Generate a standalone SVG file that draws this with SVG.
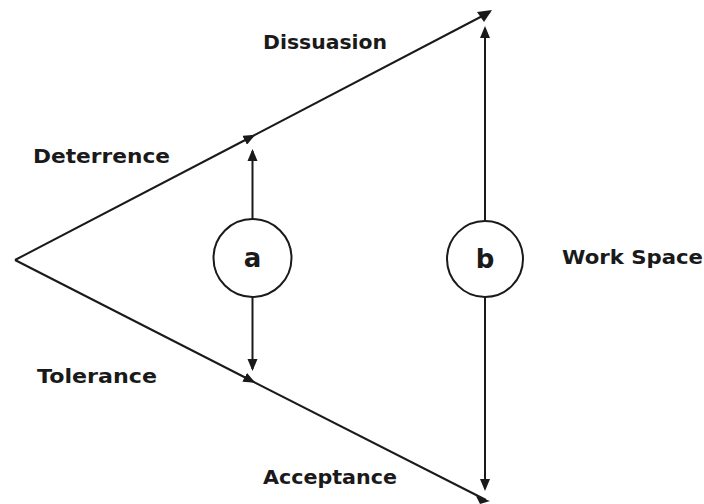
<svg xmlns="http://www.w3.org/2000/svg" width="704" height="504" viewBox="0 0 704 504">
<style>
.ln{stroke:#1a1a1a;stroke-width:2;fill:none}
.lbl{font-family:"DejaVu Sans","Liberation Sans",sans-serif;font-weight:bold;font-size:19px;fill:#1a1a1a}
.big{font-family:"DejaVu Sans","Liberation Sans",sans-serif;font-weight:bold;font-size:26px;fill:#1a1a1a;text-anchor:middle}
.circ{stroke:#1a1a1a;stroke-width:2;fill:#fff}
</style>
<defs>
<marker id="ah" markerWidth="12" markerHeight="12" refX="10" refY="5" orient="auto" markerUnits="userSpaceOnUse" viewBox="0 0 12 10">
<path d="M0,0 L12,5 L0,10 z" fill="#1a1a1a"/>
</marker>
<marker id="mid" markerWidth="12" markerHeight="10" refX="6" refY="5" orient="auto" markerUnits="userSpaceOnUse" viewBox="0 0 12 10">
<path d="M0,0 L12,5 L0,10 z" fill="#1a1a1a"/>
</marker>
</defs>
<g id="connectors">
<path class="ln" d="M15,260 L250,137.5" marker-end="url(#mid)"/>
<path class="ln" d="M250,137.5 L490,12"/>
<path class="ln" d="M15,260 L250,380" marker-end="url(#mid)"/>
<path class="ln" d="M250,380 L486,500"/>
<path class="ln" d="M252.5,219 L252.5,151" marker-end="url(#ah)"/>
<path class="ln" d="M252.5,297 L252.5,369" marker-end="url(#ah)"/>
<path class="ln" d="M485,221 L485,28" marker-end="url(#ah)"/>
<path class="ln" d="M485,297 L485,489" marker-end="url(#ah)"/>
<path d="M477,12 L492,10 L484,22 z" fill="#1a1a1a"/>
<path d="M476,496 L490,501 L480,504 z" fill="#1a1a1a"/>
</g>
<g id="node-a">
<circle class="circ" cx="252.5" cy="258" r="39"/>
<text class="big" x="252.5" y="267">a</text>
</g>
<g id="node-b">
<circle class="circ" cx="485" cy="259" r="38"/>
<text class="big" x="485" y="268">b</text>
</g>
<g id="labels">
<text class="lbl" x="263" y="49" textLength="124" lengthAdjust="spacingAndGlyphs">Dissuasion</text>
<text class="lbl" x="33" y="163" textLength="137" lengthAdjust="spacingAndGlyphs">Deterrence</text>
<text class="lbl" x="37" y="383" textLength="120" lengthAdjust="spacingAndGlyphs">Tolerance</text>
<text class="lbl" x="263" y="484" textLength="134" lengthAdjust="spacingAndGlyphs">Acceptance</text>
<text class="lbl" x="562" y="264" textLength="141" lengthAdjust="spacingAndGlyphs">Work Space</text>
</g>
</svg>
